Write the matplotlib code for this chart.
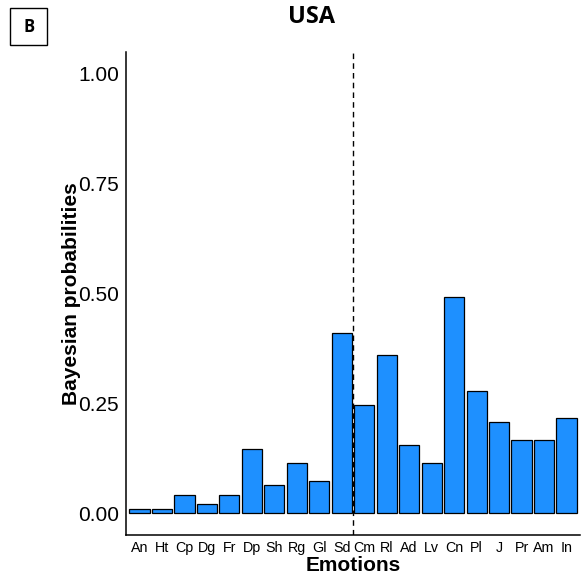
import matplotlib
matplotlib.use("Agg")
import matplotlib.pyplot as plt
from matplotlib.patches import Rectangle

emotions = ["An", "Ht", "Cp", "Dg", "Fr", "Dp", "Sh", "Rg", "Gl", "Sd",
            "Cm", "Rl", "Ad", "Lv", "Cn", "Pl", "J", "Pr", "Am", "In"]
probabilities = [0.01, 0.01, 0.04, 0.02, 0.04, 0.145, 0.063, 0.113, 0.073, 0.41,
                 0.247, 0.359, 0.154, 0.113, 0.492, 0.277, 0.207, 0.166, 0.166, 0.216]
y_ticks = [0.00, 0.25, 0.50, 0.75, 1.00]
y_tick_labels = ["0.00", "0.25", "0.50", "0.75", "1.00"]
divider_position = 10.5

plt.rcParams['font.family'] = ['Liberation Sans', 'DejaVu Sans']

fig = plt.figure(figsize=(5.84, 5.81), dpi=100)
ax = fig.add_axes([126/584, 1-535/581, (580-126)/584, (535-52)/581])

x = list(range(1, len(emotions) + 1))
ax.bar(x, probabilities, width=0.9, color="#1E90FF", edgecolor="black", linewidth=0.9)
ax.axvline(divider_position, color="black", linestyle=(0, (4, 3)), linewidth=1.0)

ax.set_xlim(0.4, len(emotions) + 0.6)
ax.set_ylim(-0.05, 1.05)
ax.set_xticks(x)
ax.set_xticklabels(emotions, fontsize=10.3)
ax.set_yticks(y_ticks)
ax.set_yticklabels(y_tick_labels, fontsize=15)
ax.tick_params(axis='both', length=0)
ax.tick_params(axis='x', pad=4)
ax.tick_params(axis='y', pad=5)
for s in ["top", "right"]:
    ax.spines[s].set_visible(False)
for s in ["left", "bottom"]:
    ax.spines[s].set_linewidth(1.1)

ax.set_xlabel("Emotions", fontsize=15, fontweight="bold", labelpad=1)
ax.set_ylabel("Bayesian probabilities", fontsize=15, fontweight="bold", labelpad=-2)

fig.text(311/584, 1-17/581, "USA", fontsize=17, fontweight="bold",
         family=["Open Sans", "DejaVu Sans"], ha="center", va="center")

fig.patches.append(Rectangle((10/584, 1-45/581), 37/584, 37/581, transform=fig.transFigure,
                             fill=False, edgecolor="black", linewidth=1.0))
fig.text(29/584, 1-27/581, "B", fontsize=12, fontweight="bold",
         family=["Open Sans", "DejaVu Sans"], ha="center", va="center")

fig.savefig("out.png", dpi=100)
